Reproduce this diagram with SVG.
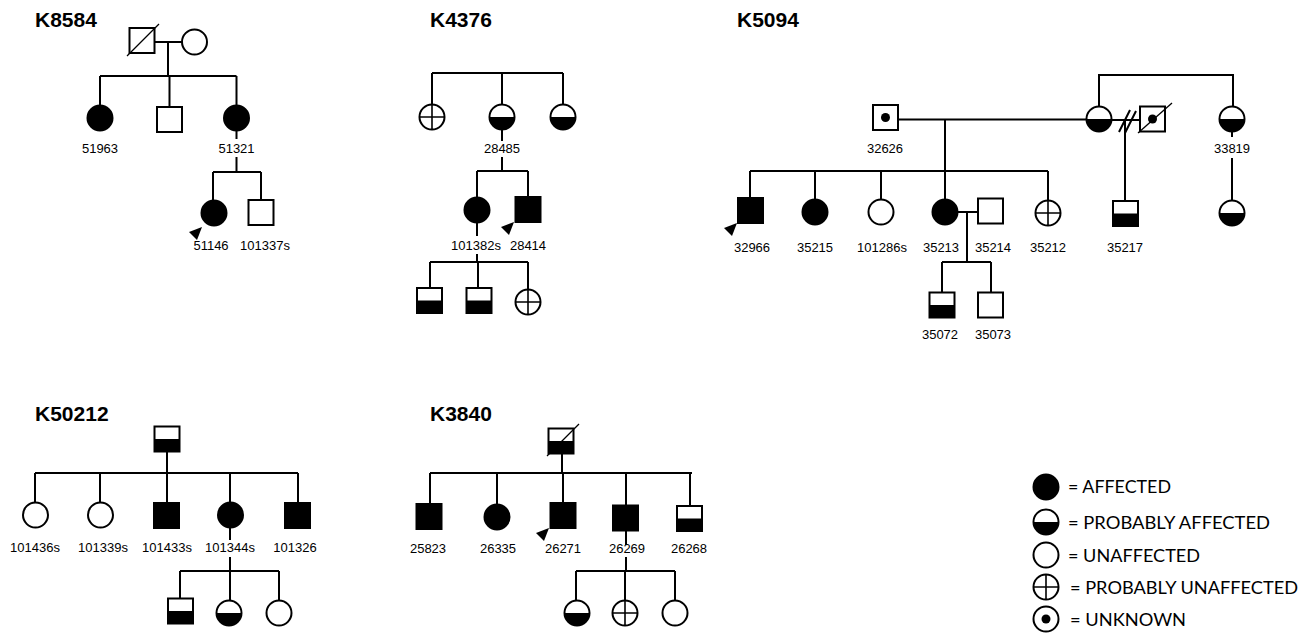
<svg xmlns="http://www.w3.org/2000/svg" xmlns:xlink="http://www.w3.org/1999/xlink" width="1316" height="640" viewBox="0 0 1316 640">
<style>
.ln{stroke:#000;stroke-width:2;fill:none}
.thin{stroke:#000;stroke-width:1.3;fill:none}
.lbl{font-family:"Liberation Sans",Arial,sans-serif;font-size:13px;text-anchor:middle;fill:#000}
.ttl{font-family:"Liberation Sans",Arial,sans-serif;font-size:21px;font-weight:bold;fill:#000}
.leg{font-family:Lato,"Open Sans",sans-serif;font-size:18px;fill:#000}
</style>
<defs>
<g id="sq"><rect x="-12.5" y="-12.5" width="25" height="25" fill="#fff" stroke="#000" stroke-width="2"/></g>
<g id="sqA"><rect x="-12.5" y="-12.5" width="25" height="25" fill="#000" stroke="#000" stroke-width="2"/></g>
<g id="sqH"><rect x="-12.5" y="-12.5" width="25" height="25" fill="#fff"/><rect x="-12.5" y="0" width="25" height="12.5" fill="#000"/><rect x="-12.5" y="-12.5" width="25" height="25" fill="none" stroke="#000" stroke-width="2"/></g>
<g id="sqU"><rect x="-12.5" y="-12.5" width="25" height="25" fill="#fff" stroke="#000" stroke-width="2"/><circle r="4.5" fill="#000"/></g>
<g id="ci"><circle r="12.5" fill="#fff" stroke="#000" stroke-width="2"/></g>
<g id="ciA"><circle r="12.5" fill="#000" stroke="#000" stroke-width="2"/></g>
<g id="ciH"><circle r="12.5" fill="#fff"/><path d="M-12.5,0 A12.5,12.5 0 0 0 12.5,0 Z" fill="#000"/><circle r="12.5" fill="none" stroke="#000" stroke-width="2"/></g>
<g id="ciP"><circle r="12.5" fill="#fff" stroke="#000" stroke-width="2"/><path d="M-12.5,0 H12.5 M0,-12.5 V12.5" stroke="#000" stroke-width="1.6"/></g>
<g id="ciU"><circle r="12.5" fill="#fff" stroke="#000" stroke-width="2"/><circle r="4.5" fill="#000"/></g>
<g id="arw"><polygon points="0,0 -13,5 -5,13" fill="#000"/></g>
</defs>

<g id="titles">
<text class="ttl" x="35" y="27">K8584</text>
<text class="ttl" x="430" y="27">K4376</text>
<text class="ttl" x="737" y="27">K5094</text>
<text class="ttl" x="35" y="421">K50212</text>
<text class="ttl" x="430" y="421">K3840</text>
</g>

<g id="connectors">
<!-- K8584 -->
<path class="ln" d="M154.5,42 H182 M168,42 V76 M100,76 H236.5 M100,76 V105.5 M169.5,76 V107 M236.5,76 V105.5 M236.5,130.5 V139 M236.5,157 V172 M213,172 H261 M213,172 V200.5 M261,172 V200"/>
<!-- K4376 -->
<path class="ln" d="M432,73 H563 M432,73 V104.5 M502,73 V104.5 M563,73 V104.5 M502,129.5 V141 M502,157 V171 M477,171 H528 M477,171 V197.5 M528,171 V197 M477,222.5 V236 M477,254 V262 M430,262 H528 M430,262 V288 M478,262 V288 M528,262 V289.5"/>
<!-- K5094 -->
<path class="ln" d="M898,119.5 H1086.5 M945,119.5 V171 M750,171 H1048 M750,171 V198 M815,171 V199.5 M881,171 V199.5 M945,171 V199.5 M1048,171 V200.5 M957.5,212 H978 M967,212 V262 M942,262 H991 M942,262 V292.5 M991,262 V292.5"/>
<path class="ln" d="M1099,106.5 V75 H1233 V106.5 M1232,131.5 V137 M1232,158 V200.5 M1111.5,120 H1140 M1125,120 V201"/>
<path class="ln" d="M1119,132 L1130,110 M1125,133 L1136,111"/>
</g>
<g id="connectors-2">
<!-- K50212 -->
<path class="ln" d="M167,451.5 V473 M35,473 H298 M35,473 V502.5 M100,473 V502.5 M167,473 V503 M230,473 V502.5 M298,473 V503 M230,527.5 V540 M230,557 V571 M180,571 H279 M180,571 V598.5 M230,571 V600.5 M279,571 V600.5"/>
<!-- K3840 -->
<path class="ln" d="M562,453.5 V473 M430,473 H692 M430,473 V504 M497,473 V504.5 M563,473 V503 M626,473 V505.5 M690,473 V506 M626,530.5 V545 M626,557 V571 M576,571 H675 M576,571 V600.5 M625,571 V600.5 M675,571 V600.5"/>
</g>

<g id="K8584">
<g id="n8584-I1"><use xlink:href="#sq" x="142" y="40.5"/><path class="thin" d="M127,56 L159,24"/></g>
<g id="n8584-I2"><use xlink:href="#ci" x="194.5" y="42"/></g>
<g id="n51963"><use xlink:href="#ciA" x="100" y="118"/><text class="lbl" x="100" y="153">51963</text></g>
<g id="n8584-II2"><use xlink:href="#sq" x="169.5" y="119.5"/></g>
<g id="n51321"><use xlink:href="#ciA" x="236.5" y="118"/><text class="lbl" x="236.5" y="153">51321</text></g>
<g id="n51146"><use xlink:href="#ciA" x="214" y="213"/><use xlink:href="#arw" x="202" y="227"/><text class="lbl" x="211" y="250">51146</text></g>
<g id="n101337s"><use xlink:href="#sq" x="261" y="212.5"/><text class="lbl" x="265" y="250">101337s</text></g>
</g>

<g id="K4376">
<g id="n4376-1"><use xlink:href="#ciP" x="432" y="117"/></g>
<g id="n28485"><use xlink:href="#ciH" x="502" y="117"/><text class="lbl" x="502" y="153">28485</text></g>
<g id="n4376-3"><use xlink:href="#ciH" x="563" y="117"/></g>
<g id="n101382s"><use xlink:href="#ciA" x="477" y="210"/><text class="lbl" x="476" y="250">101382s</text></g>
<g id="n28414"><use xlink:href="#sqA" x="528" y="209.5"/><use xlink:href="#arw" x="514" y="222"/><text class="lbl" x="528" y="250">28414</text></g>
<g id="n4376-c1"><use xlink:href="#sqH" x="429.5" y="300.5"/></g>
<g id="n4376-c2"><use xlink:href="#sqH" x="479" y="300.5"/></g>
<g id="n4376-c3"><use xlink:href="#ciP" x="528" y="302"/></g>
</g>

<g id="K5094">
<g id="n32626"><use xlink:href="#sqU" x="885.5" y="117.5"/><text class="lbl" x="885" y="153">32626</text></g>
<g id="n5094-mother"><use xlink:href="#ciH" x="1099" y="119"/></g>
<g id="n5094-2ndhusband"><use xlink:href="#sqU" x="1152.5" y="119"/><path class="thin" d="M1138,133 L1172,103"/></g>
<g id="n33819"><use xlink:href="#ciH" x="1232" y="119"/><text class="lbl" x="1232" y="153">33819</text></g>
<g id="n32966"><use xlink:href="#sqA" x="750.5" y="210.5"/><use xlink:href="#arw" x="737" y="223"/><text class="lbl" x="752" y="252">32966</text></g>
<g id="n35215"><use xlink:href="#ciA" x="815" y="212"/><text class="lbl" x="815" y="252">35215</text></g>
<g id="n101286s"><use xlink:href="#ci" x="881" y="212"/><text class="lbl" x="882" y="252">101286s</text></g>
<g id="n35213"><use xlink:href="#ciA" x="945" y="212"/><text class="lbl" x="941" y="252">35213</text></g>
<g id="n35214"><use xlink:href="#sq" x="990.5" y="211"/><text class="lbl" x="993" y="252">35214</text></g>
<g id="n35212"><use xlink:href="#ciP" x="1048" y="213"/><text class="lbl" x="1048" y="252">35212</text></g>
<g id="n35217"><use xlink:href="#sqH" x="1125.5" y="213.5"/><text class="lbl" x="1125" y="252">35217</text></g>
<g id="n5094-33819child"><use xlink:href="#ciH" x="1232" y="213"/></g>
<g id="n35072"><use xlink:href="#sqH" x="942" y="305"/><text class="lbl" x="940" y="339">35072</text></g>
<g id="n35073"><use xlink:href="#sq" x="990.5" y="305"/><text class="lbl" x="993" y="339">35073</text></g>
</g>

<g id="K50212">
<g id="n50212-father"><use xlink:href="#sqH" x="167" y="439"/></g>
<g id="n101436s"><use xlink:href="#ci" x="35.5" y="515"/><text class="lbl" x="35" y="552">101436s</text></g>
<g id="n101339s"><use xlink:href="#ci" x="100.5" y="515"/><text class="lbl" x="103" y="552">101339s</text></g>
<g id="n101433s"><use xlink:href="#sqA" x="166.5" y="515.5"/><text class="lbl" x="167" y="552">101433s</text></g>
<g id="n101344s"><use xlink:href="#ciA" x="230.5" y="515"/><text class="lbl" x="230" y="552">101344s</text></g>
<g id="n101326"><use xlink:href="#sqA" x="297.5" y="515.5"/><text class="lbl" x="295" y="552">101326</text></g>
<g id="n50212-c1"><use xlink:href="#sqH" x="180.5" y="611"/></g>
<g id="n50212-c2"><use xlink:href="#ciH" x="229" y="613"/></g>
<g id="n50212-c3"><use xlink:href="#ci" x="279" y="613"/></g>
</g>

<g id="K3840">
<g id="n3840-father"><use xlink:href="#sqH" x="561" y="441"/><path class="thin" d="M547,456 L579,424"/></g>
<g id="n25823"><use xlink:href="#sqA" x="429" y="516.5"/><text class="lbl" x="428" y="553">25823</text></g>
<g id="n26335"><use xlink:href="#ciA" x="497" y="517"/><text class="lbl" x="498" y="553">26335</text></g>
<g id="n26271"><use xlink:href="#sqA" x="563" y="515.5"/><use xlink:href="#arw" x="549" y="528"/><text class="lbl" x="563" y="553">26271</text></g>
<g id="n26269"><use xlink:href="#sqA" x="625.5" y="518"/><text class="lbl" x="627" y="553">26269</text></g>
<g id="n26268"><use xlink:href="#sqH" x="689.5" y="518.5"/><text class="lbl" x="689" y="553">26268</text></g>
<g id="n3840-c1"><use xlink:href="#ciH" x="577" y="613"/></g>
<g id="n3840-c2"><use xlink:href="#ciP" x="625" y="613"/></g>
<g id="n3840-c3"><use xlink:href="#ci" x="675" y="613"/></g>
</g>

<g id="legend">
<use xlink:href="#ciA" x="1046" y="487"/>
<text class="leg" x="1068" y="493" textLength="103" lengthAdjust="spacingAndGlyphs">= AFFECTED</text>
<use xlink:href="#ciH" x="1046" y="522"/>
<text class="leg" x="1068" y="529" textLength="202" lengthAdjust="spacingAndGlyphs">= PROBABLY AFFECTED</text>
<use xlink:href="#ci" x="1046" y="555"/>
<text class="leg" x="1068" y="562" textLength="132" lengthAdjust="spacingAndGlyphs">= UNAFFECTED</text>
<use xlink:href="#ciP" x="1046" y="587"/>
<text class="leg" x="1070" y="594" textLength="228" lengthAdjust="spacingAndGlyphs">= PROBABLY UNAFFECTED</text>
<use xlink:href="#ciU" x="1046" y="619"/>
<text class="leg" x="1070" y="626" textLength="116" lengthAdjust="spacingAndGlyphs">= UNKNOWN</text>
</g>
</svg>
